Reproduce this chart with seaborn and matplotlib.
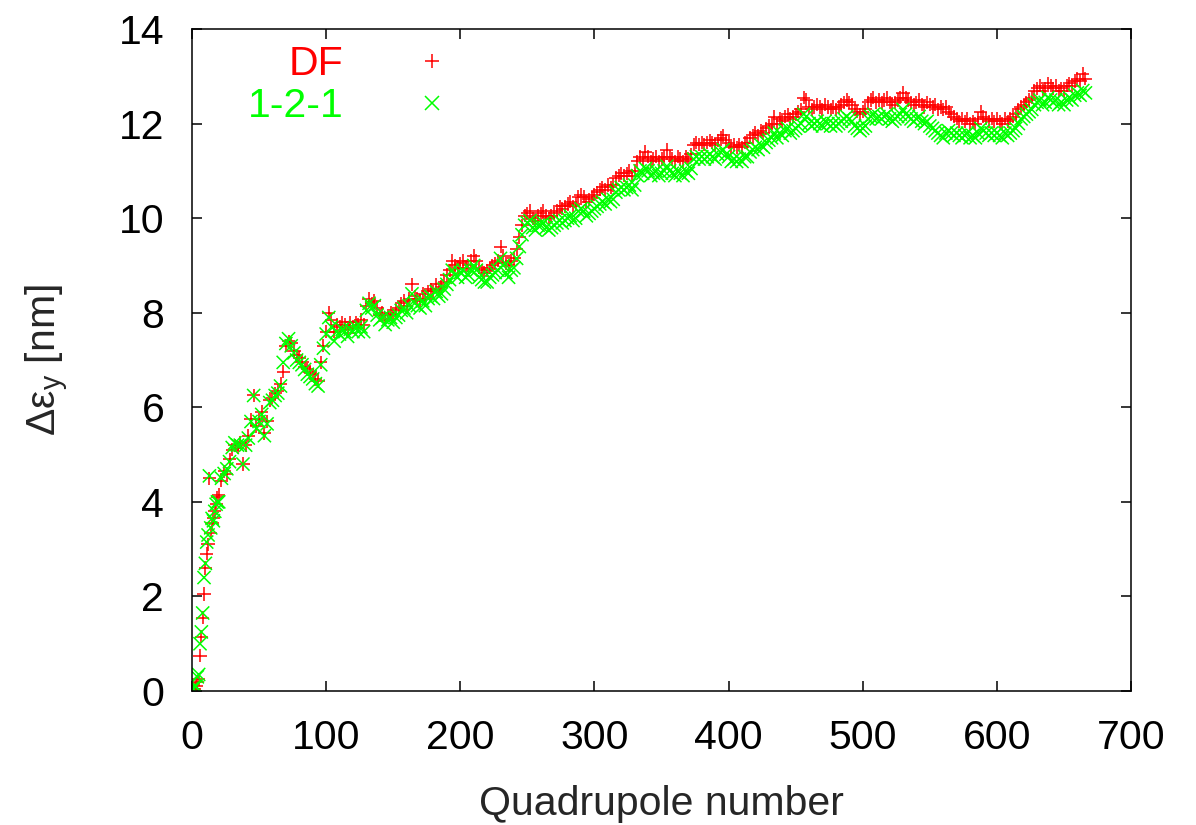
import numpy as np
import pandas as pd
import seaborn as sns
import matplotlib
matplotlib.use("Agg")
import matplotlib.pyplot as plt
from matplotlib.lines import Line2D

# quadrupole index: every quadrupole for the first 20, then every second one
quad = np.r_[np.arange(0, 20), np.arange(20, 667, 2)]

# DF correction, emittance growth in nm
df_early = [0.05, 0.05, 0.05, 0.1, 0.2, 0.25, 0.75, 1.15, 1.55, 2.05,
            2.6, 2.9, 3.1, 4.5, 3.35, 3.55, 3.65, 3.8, 3.95, 4.1]
df_main = [
    4.15, 4.45, 4.65, 4.6, 4.9, 5.1, 5.2, 5.15, 5.25, 4.8,
    5.2, 5.4, 5.75, 6.25, 5.6, 5.75, 5.9, 5.45, 5.7, 6.15,
    6.2, 6.3, 6.35, 6.5, 6.75, 7.3, 7.4, 7.35, 7.2, 7.1,
    7.05, 6.95, 6.85, 6.8, 6.75, 6.7, 6.6, 6.55, 6.95, 7.3,
    7.6, 8.0, 7.85, 7.6, 7.75, 7.7, 7.8, 7.75, 7.65, 7.8,
    7.7, 7.8, 7.75, 7.85, 7.75, 8.15, 8.3, 8.2, 8.25, 8.1,
    7.95, 8.0, 7.85, 7.95, 8.0, 7.95, 8.05, 8.1, 8.2, 8.25,
    8.15, 8.3, 8.6, 8.35, 8.3, 8.25, 8.4, 8.3, 8.45, 8.5,
    8.45, 8.6, 8.5, 8.55, 8.65, 8.8, 8.9, 9.1, 9.0, 8.95,
    9.05, 9.1, 8.95, 9.0, 9.1, 9.2, 9.1, 8.95, 8.9, 8.85,
    8.9, 8.95, 9.0, 9.05, 9.1, 9.4, 9.2, 9.05, 9.0, 9.1,
    9.15, 9.35, 9.6, 9.85, 10.05, 10.1, 10.15, 10.0, 9.95, 10.05,
    10.1, 10.15, 10.05, 10.0, 10.05, 10.1, 10.15, 10.25, 10.2, 10.25,
    10.3, 10.35, 10.25, 10.3, 10.45, 10.5, 10.45, 10.35, 10.4, 10.45,
    10.5, 10.55, 10.6, 10.65, 10.6, 10.7, 10.65, 10.7, 10.85, 10.9,
    10.95, 10.9, 10.95, 11.0, 10.9, 11.0, 11.2, 11.3, 11.25, 11.4,
    11.3, 11.2, 11.25, 11.3, 11.2, 11.25, 11.3, 11.45, 11.3, 11.25,
    11.2, 11.3, 11.25, 11.2, 11.3, 11.25, 11.35, 11.55, 11.6, 11.55,
    11.6, 11.55, 11.6, 11.65, 11.6, 11.55, 11.65, 11.7, 11.75, 11.65,
    11.6, 11.5, 11.55, 11.5, 11.55, 11.5, 11.6, 11.6, 11.7, 11.75,
    11.8, 11.75, 11.85, 11.8, 11.9, 11.95, 12.0, 12.15, 12.0, 12.1,
    12.05, 12.15, 12.2, 12.1, 12.15, 12.2, 12.25, 12.3, 12.55, 12.5,
    12.35, 12.3, 12.35, 12.4, 12.35, 12.3, 12.4, 12.35, 12.3, 12.35,
    12.3, 12.35, 12.4, 12.45, 12.5, 12.45, 12.4, 12.3, 12.25, 12.2,
    12.25, 12.3, 12.45, 12.5, 12.55, 12.45, 12.5, 12.45, 12.5, 12.55,
    12.45, 12.4, 12.45, 12.5, 12.55, 12.65, 12.55, 12.5, 12.45, 12.4,
    12.45, 12.5, 12.4, 12.35, 12.45, 12.4, 12.35, 12.4, 12.3, 12.35,
    12.3, 12.35, 12.25, 12.2, 12.15, 12.1, 12.05, 12.1, 12.05, 12.1,
    12.0, 12.05, 12.0, 12.1, 12.25, 12.15, 12.1, 12.05, 12.1, 12.05,
    12.1, 12.05, 12.0, 12.1, 12.05, 12.1, 12.15, 12.2, 12.3, 12.35,
    12.4, 12.45, 12.5, 12.55, 12.7, 12.75, 12.8, 12.7, 12.75, 12.85,
    12.8, 12.75, 12.8, 12.7, 12.75, 12.7, 12.8, 12.85, 12.8, 12.9,
    12.95, 12.9, 13.05, 12.95,
]

# 1-2-1 correction
ot_early = [0.05, 0.05, 0.1, 0.1, 0.3, 0.35, 1.0, 1.25, 1.65, 2.4,
            2.7, 3.15, 3.3, 4.55, 3.45, 3.65, 3.6, 3.8, 3.95, 4.0]
ot_main = [
    4.0, 4.5, 4.6, 4.7, 4.85, 5.15, 5.25, 5.2, 5.2, 4.8,
    5.2, 5.35, 5.7, 6.25, 5.55, 5.7, 5.85, 5.4, 5.65, 6.1,
    6.15, 6.25, 6.3, 6.45, 6.95, 7.35, 7.45, 7.3, 7.15, 7.0,
    6.95, 6.9, 6.8, 6.7, 6.65, 6.6, 6.5, 6.45, 6.9, 7.25,
    7.55, 7.9, 7.7, 7.4, 7.6, 7.55, 7.65, 7.6, 7.5, 7.65,
    7.6, 7.7, 7.6, 7.7, 7.6, 8.05, 8.2, 8.1, 8.15, 7.95,
    7.85, 7.9, 7.75, 7.85, 7.9, 7.8, 7.9, 7.95, 8.05, 8.1,
    8.0, 8.15, 8.4, 8.2, 8.15, 8.1, 8.25, 8.15, 8.3, 8.35,
    8.3, 8.45, 8.35, 8.4, 8.5, 8.6, 8.7, 8.9, 8.8, 8.75,
    8.85, 8.9, 8.75, 8.8, 8.9, 9.0, 8.9, 8.75, 8.7, 8.65,
    8.65, 8.75, 8.8, 8.85, 8.9, 9.15, 9.0, 8.85, 8.75, 8.9,
    8.95, 9.15, 9.4, 9.65, 9.85, 9.9, 9.95, 9.8, 9.75, 9.85,
    9.85, 9.9, 9.8, 9.75, 9.8, 9.85, 9.9, 9.95, 9.9, 9.95,
    10.0, 10.05, 9.95, 10.0, 10.15, 10.2, 10.15, 10.05, 10.1, 10.15,
    10.2, 10.25, 10.3, 10.35, 10.3, 10.4, 10.35, 10.4, 10.55, 10.6,
    10.65, 10.6, 10.65, 10.7, 10.6, 10.7, 10.9, 11.0, 10.95, 11.05,
    11.0, 10.9, 10.95, 11.0, 10.9, 10.95, 11.0, 11.1, 11.0, 10.95,
    10.9, 11.0, 10.95, 10.9, 11.0, 10.95, 11.05, 11.25, 11.3, 11.25,
    11.3, 11.25, 11.3, 11.35, 11.3, 11.25, 11.35, 11.4, 11.45, 11.35,
    11.3, 11.2, 11.25, 11.2, 11.25, 11.2, 11.3, 11.3, 11.4, 11.45,
    11.5, 11.45, 11.55, 11.5, 11.6, 11.65, 11.7, 11.8, 11.7, 11.8,
    11.75, 11.85, 11.9, 11.8, 11.85, 11.9, 11.95, 12.0, 12.2, 12.15,
    12.0, 11.95, 12.0, 12.05, 12.0, 11.95, 12.05, 12.0, 11.95, 12.0,
    11.95, 12.0, 12.05, 12.1, 12.15, 12.1, 12.05, 11.95, 11.9, 11.85,
    11.9, 11.95, 12.1, 12.15, 12.2, 12.1, 12.15, 12.1, 12.15, 12.2,
    12.1, 12.05, 12.1, 12.15, 12.2, 12.3, 12.2, 12.15, 12.1, 12.05,
    12.1, 12.15, 12.05, 12.0, 12.05, 11.95, 11.9, 11.85, 11.8, 11.75,
    11.7, 11.8, 11.85, 11.8, 11.75, 11.8, 11.75, 11.7, 11.75, 11.8,
    11.7, 11.75, 11.7, 11.8, 11.9, 11.85, 11.8, 11.75, 11.8, 11.75,
    11.8, 11.75, 11.7, 11.8, 11.75, 11.8, 11.85, 11.9, 12.0, 12.1,
    12.15, 12.2, 12.25, 12.3, 12.4, 12.45, 12.5, 12.4, 12.45, 12.55,
    12.5, 12.45, 12.5, 12.4, 12.45, 12.4, 12.5, 12.55, 12.5, 12.6,
    12.65, 12.6, 12.7, 12.65,
]

df_vals = df_early + df_main
ot_vals = ot_early + ot_main
assert len(df_vals) == len(quad) and len(ot_vals) == len(quad)

red = "#ff0000"
green = "#00ff00"

data = pd.DataFrame({
    "quad": np.r_[quad, quad],
    "demit": df_vals + ot_vals,
    "scheme": ["DF"] * len(quad) + ["1-2-1"] * len(quad),
})

sns.set_style("ticks")
plt.rcParams["font.family"] = ["Liberation Sans", "DejaVu Sans"]
plt.rcParams["mathtext.default"] = "regular"

fig = plt.figure(figsize=(11.96, 8.25), dpi=100)
ax = fig.add_axes([0.1605, 0.1624, 0.7852, 0.8024])

sns.scatterplot(data=data, x="quad", y="demit", hue="scheme", style="scheme",
                markers={"DF": "+", "1-2-1": "x"},
                palette={"DF": red, "1-2-1": green},
                s=90, linewidth=1.1, legend=False, ax=ax)

ax.set_xlim(0, 700)
ax.set_ylim(0, 14)
ax.set_xticks(range(0, 701, 100))
ax.set_yticks(range(0, 15, 2))
ax.tick_params(direction="in", top=True, right=True, length=7, width=1.1,
               labelsize=29.5, pad=20, colors="black")
for sp in ax.spines.values():
    sp.set_linewidth(1.1)
    sp.set_color("black")

ax.set_xlabel("Quadrupole number", fontsize=29.5, labelpad=20)
ax.set_ylabel("Δε$_y$ [nm]", fontsize=29.5, labelpad=34)

handles = [Line2D([], [], ls="none", marker="+", color=red, ms=9.5, mew=1.1),
           Line2D([], [], ls="none", marker="x", color=green, ms=9.5, mew=1.1)]
ax.legend(handles, ["DF", "1-2-1"], loc="upper right",
          bbox_to_anchor=(0.277, 0.976), markerfirst=False, frameon=False,
          labelcolor=[red, green], fontsize=29.5, handlelength=1.0,
          handletextpad=1.65, labelspacing=0.1, borderpad=0, borderaxespad=0)

fig.savefig("out.png", dpi=100)
